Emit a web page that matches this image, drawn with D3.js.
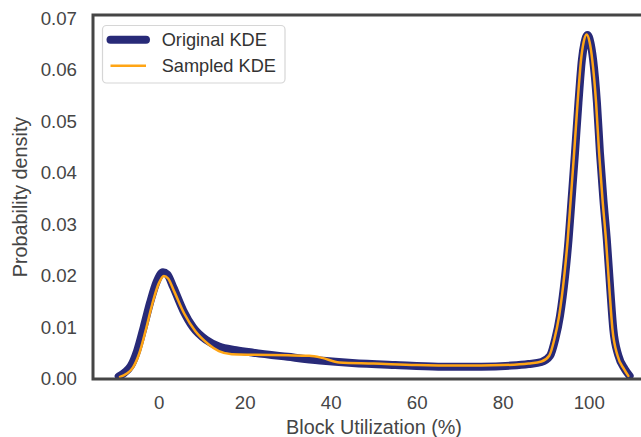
<!DOCTYPE html>
<html>
<head>
<meta charset="utf-8">
<script src="https://cdn.jsdelivr.net/npm/d3@7"></script>
<style>
  html, body { margin: 0; padding: 0; background: #fff; }
  svg { display: block; font-family: "Liberation Sans", Arial, Helvetica, sans-serif; }
</style>
</head>
<body>
<svg id="chart" width="641" height="437"></svg>
<script>
// ---- data ----
const origX = [-9.3, -8, -6.5, -5, -3.5, -2, -0.5, 1, 2, 3.4, 5.7, 8, 11, 14, 18, 22, 30, 37.5, 45, 55, 65, 75, 82, 86, 89, 91, 92.2, 93.3, 94.5, 95.3, 96, 96.8, 97.6, 98.4, 99.0, 99.7, 100.4, 101, 101.9, 102.6, 103.4, 104.2, 105, 105.7, 106.9, 108.4, 109.5];
const origY = [0.0005, 0.0012, 0.0025, 0.0055, 0.0100, 0.0148, 0.0188, 0.0207, 0.0203, 0.0178, 0.0133, 0.0100, 0.0076, 0.0063, 0.0056, 0.0051, 0.0043, 0.0036, 0.0031, 0.0027, 0.0024, 0.0024, 0.0026, 0.0029, 0.0033, 0.0045, 0.0077, 0.0122, 0.0200, 0.0270, 0.0348, 0.0439, 0.0536, 0.0619, 0.0652, 0.0667, 0.0652, 0.0620, 0.0536, 0.0439, 0.0348, 0.0270, 0.0174, 0.0097, 0.0045, 0.0019, 0.0006];

const sampX = [-9.0, -7.5, -6, -4.5, -3, -1.5, 0, 1.2, 2.2, 3.6, 6, 8.5, 11.5, 14, 17, 22, 30, 35, 38, 42, 50, 60, 70, 80, 86, 89, 90.8, 92, 93.1, 94.3, 95.1, 95.8, 96.6, 97.4, 98.2, 98.8, 99.5, 100.2, 100.8, 101.7, 102.4, 103.2, 104, 104.8, 105.5, 106.7, 108.2, 109.2];
const sampY = [0.0004, 0.0010, 0.0022, 0.0050, 0.0095, 0.0145, 0.0185, 0.0200, 0.0195, 0.0170, 0.0126, 0.0093, 0.0068, 0.0054, 0.0048, 0.0047, 0.0046, 0.0045, 0.0041, 0.0032, 0.0030, 0.0027, 0.0026, 0.0027, 0.0030, 0.0034, 0.0045, 0.0077, 0.0122, 0.0200, 0.0270, 0.0348, 0.0439, 0.0536, 0.0619, 0.0653, 0.0668, 0.0653, 0.0620, 0.0536, 0.0439, 0.0348, 0.0270, 0.0174, 0.0097, 0.0045, 0.0019, 0.0006];

const xTicks = [0, 20, 40, 60, 80, 100];
const yTicks = [0, 0.01, 0.02, 0.03, 0.04, 0.05, 0.06, 0.07];
const seriesNames = ["Original KDE", "Sampled KDE"];
const xLabel = "Block Utilization (%)";
const yLabel = "Probability density";

// ---- layout ----
const svg = d3.select("#chart");
const L = 93, T = 15, R = 655, B = 379;
const navy = "#282a78", orange = "#ffa515", spine = "#454545", txt = "#454545";

const x = d3.scaleLinear().domain([-15.27, 115.4]).range([L, R]);
const y = d3.scaleLinear().domain([0, 0.0706]).range([B, T]);

svg.append("defs").append("clipPath").attr("id", "clip")
  .append("rect").attr("x", L).attr("y", T).attr("width", R - L).attr("height", B - T);

const line = d3.line().x(d => x(d[0])).y(d => y(d[1])).curve(d3.curveMonotoneX);
const orig = origX.map((v, i) => [v, origY[i]]);
const samp = sampX.map((v, i) => [v, sampY[i]]);

const g = svg.append("g").attr("clip-path", "url(#clip)");
g.append("path").datum(orig).attr("d", line)
  .attr("fill", "none").attr("stroke", navy).attr("stroke-width", 8)
  .attr("stroke-linejoin", "round").attr("stroke-linecap", "round");
g.append("path").datum(samp).attr("d", line)
  .attr("fill", "none").attr("stroke", orange).attr("stroke-width", 2.5)
  .attr("stroke-linejoin", "round").attr("stroke-linecap", "round");

// axes (ticks as labels only, seaborn white style)
const xAxis = d3.axisBottom(x).tickValues(xTicks).tickSize(0).tickPadding(17).tickFormat(d3.format("d"));
const yAxis = d3.axisLeft(y).tickValues(yTicks).tickSize(0).tickPadding(16).tickFormat(d3.format(".2f"));

const gx = svg.append("g").attr("transform", `translate(0,${B})`).call(xAxis);
const gy = svg.append("g").attr("transform", `translate(${L},0)`).call(yAxis);
[gx, gy].forEach(a => {
  a.select(".domain").remove();
  a.selectAll("text").attr("fill", txt).style("font-size", "18.7px")
    .style("font-family", "'Liberation Sans', Arial, sans-serif");
});

// spines
svg.append("rect").attr("x", L).attr("y", T).attr("width", R - L).attr("height", B - T)
  .attr("fill", "none").attr("stroke", spine).attr("stroke-width", 3);

// axis labels
svg.append("text").attr("x", (L + R) / 2).attr("y", 434.3).attr("text-anchor", "middle")
  .attr("fill", txt).style("font-size", "19.8px").text(xLabel);
svg.append("text").attr("transform", `translate(27,${(T + B) / 2}) rotate(-90)`)
  .attr("text-anchor", "middle").attr("fill", txt).style("font-size", "19.8px").text(yLabel);

// legend
const lg = svg.append("g");
lg.append("rect").attr("x", 102.5).attr("y", 25.5).attr("width", 182.5).attr("height", 57.5)
  .attr("rx", 4).attr("fill", "#fff").attr("fill-opacity", 0.8).attr("stroke", "#d6d6d6").attr("stroke-width", 1.2);
const items = [
  { name: seriesNames[0], color: navy, w: 8, cy: 39.7 },
  { name: seriesNames[1], color: orange, w: 2.5, cy: 65.7 }
];
items.forEach(it => {
  lg.append("line").attr("x1", 110.5).attr("x2", 146).attr("y1", it.cy).attr("y2", it.cy)
    .attr("stroke", it.color).attr("stroke-width", it.w).attr("stroke-linecap", it.w > 4 ? "round" : "butt");
  lg.append("text").attr("x", 161.7).attr("y", it.cy + 6.5).attr("fill", "#333")
    .style("font-size", "18.2px").text(it.name);
});
</script>
</body>
</html>
